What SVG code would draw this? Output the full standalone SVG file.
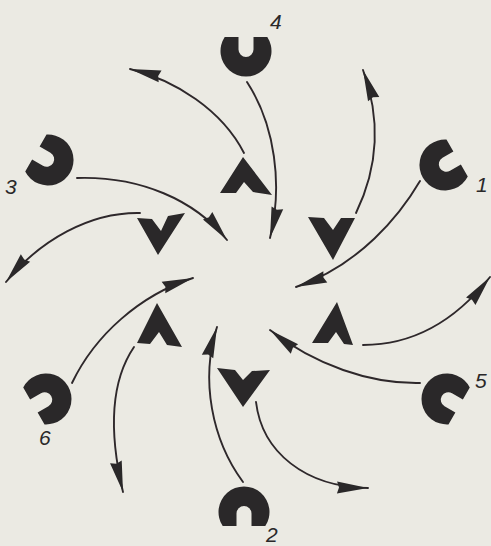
<svg xmlns="http://www.w3.org/2000/svg" xmlns:xlink="http://www.w3.org/1999/xlink" width="491" height="546" viewBox="0 0 491 546">
<style>
.ink{fill:#2a2829;}
.con{fill:none;stroke:#2e282b;stroke-width:1.9;stroke-linecap:round;}
.lbl{font-family:"Liberation Sans",Arial,sans-serif;font-style:italic;font-size:21px;fill:#2a2829;}
</style>
<defs>
<path id="mag" d="M-21.3,-14 A25.5,25.5 0 1 0 21.3,-14 L7.5,-14 L7.5,-1.5 A7.5,7.5 0 0 1 -7.5,-1.5 L-7.5,-14 Z"/>
<marker id="ah" markerUnits="userSpaceOnUse" markerWidth="34" markerHeight="14" refX="31" refY="7" orient="auto" overflow="visible">
<path d="M0,1 L31,7 L0,13 L2,7 Z" fill="#2a2829"/>
</marker>
</defs>
<rect x="0" y="0" width="491" height="546" fill="#ebeae3"/>
<g id="connectors" class="con" marker-end="url(#ah)">
<path d="M247,82 C275,125 283,185 270,238"/>
<path d="M420,181 C400,215 360,265 296,287"/>
<path d="M420,383 C370,384 315,365 270,330"/>
<path d="M243,482 C212,440 200,380 217,327"/>
<path d="M72,383 C95,335 140,295 193,278"/>
<path d="M77,178 C140,176 195,200 227,240"/>
<path d="M244,153 C222,110 175,80 130,69"/>
<path d="M356,213 C372,180 385,130 363,70"/>
<path d="M363,345 C410,345 452,325 490,277"/>
<path d="M256,402 C262,452 305,487 368,488"/>
<path d="M134,347 C115,375 106,420 123,492"/>
<path d="M140,213 C90,212 40,240 6,282"/>
</g>
<g id="magnet-4"><use xlink:href="#mag" class="ink" transform="translate(246,51)"/><text class="lbl" x="270" y="29">4</text></g>
<g id="magnet-1"><use xlink:href="#mag" class="ink" transform="translate(445,165) rotate(60)"/><text class="lbl" x="476" y="192">1</text></g>
<g id="magnet-5"><use xlink:href="#mag" class="ink" transform="translate(447,399) rotate(120)"/><text class="lbl" x="475" y="388">5</text></g>
<g id="magnet-2"><use xlink:href="#mag" class="ink" transform="translate(244,512) rotate(180)"/><text class="lbl" x="266" y="542">2</text></g>
<g id="magnet-6"><use xlink:href="#mag" class="ink" transform="translate(46,399) rotate(240)"/><text class="lbl" x="39" y="445">6</text></g>
<g id="magnet-3"><use xlink:href="#mag" class="ink" transform="translate(48,160) rotate(300)"/><text class="lbl" x="5" y="194">3</text></g>
<g id="chevron-top"><polygon class="ink" points="243,157 272,195 253,192 244,182 236,193 220,193"/></g>
<g id="chevron-upper-right"><polygon class="ink" points="308,217 324,218 333,230 341,218 355,218 333,260"/></g>
<g id="chevron-lower-right"><polygon class="ink" points="337,302 353,345 344,344 336,332 328,343 312,343"/></g>
<g id="chevron-bottom"><polygon class="ink" points="217,368 235,370 243,380 252,371 270,370 243,407"/></g>
<g id="chevron-lower-left"><polygon class="ink" points="157,303 182,347 167,345 159,332 150,344 137,343"/></g>
<g id="chevron-upper-left"><polygon class="ink" points="137,218 152,219 161,231 168,216 185,213 158,255"/></g>
</svg>
